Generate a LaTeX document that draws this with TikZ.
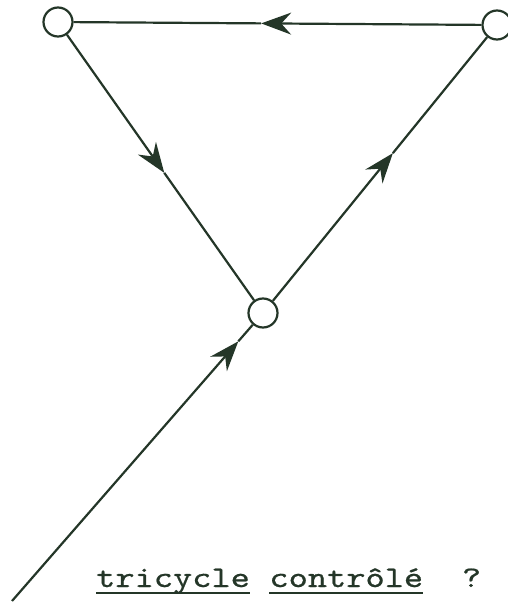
\documentclass[tikz,border=0pt]{standalone}
\usepackage{fontspec}
\newfontfamily\typewriter{lmmono10-regular.otf}[FakeStretch=1.22,FakeBold=0.6]
\usetikzlibrary{arrows.meta}
\definecolor{ink}{RGB}{36,54,40}
\tikzset{
	place/.style={circle,draw=ink,line width=2.2pt,minimum size=29pt,inner sep=0pt},
	arc/.style={draw=ink,line width=2.2pt},
	tip/.style={arc,-{Stealth[length=30pt,width=22pt,inset=10pt]}},
	word/.style={anchor=base west,inner sep=0pt,text=ink,font=\typewriter\fontsize{30}{34}\selectfont},
	uline/.style={draw=ink,line width=1.6pt}
}
\begin{document}
\begin{tikzpicture}[x=1pt,y=-1pt]
	\useasboundingbox (0,0) rectangle (508,605);
	\def\pitch{19.25}
	% places
	\node[place] (tl) at (58,22) {};
	\node[place] (tr) at (497,25) {};
	\node[place] (mid) at (263,313) {};
	\coordinate (in) at (12,601);
	% arrow points
	\path (tr) -- (tl) coordinate[pos=.54] (a1);
	\path (tl) -- (mid) coordinate[pos=.52] (a2);
	\path (mid) -- (tr) coordinate[pos=.56] (a3);
	\path (in) -- (mid) coordinate[pos=.94] (a4);
	% transitions
	\draw[tip] (tr) -- (a1);  \draw[arc] (a1) -- (tl);
	\draw[tip] (tl) -- (a2);  \draw[arc] (a2) -- (mid);
	\draw[tip] (mid) -- (a3); \draw[arc] (a3) -- (tr);
	\draw[tip] (in) -- (a4);  \draw[arc] (a4) -- (mid);
	% caption
	\node[word] (w1) at (96,587) {tricycle};
	\node[word] (w2) at (96+9*\pitch,587) {contrôlé};
	\node[word] (q) at (96+19*\pitch,587) {?};
	\draw[uline] ([yshift=-6pt]w1.base west) -- ([yshift=-6pt]w1.base east);
	\draw[uline] ([yshift=-6pt]w2.base west) -- ([yshift=-6pt]w2.base east);
\end{tikzpicture}
\end{document}
